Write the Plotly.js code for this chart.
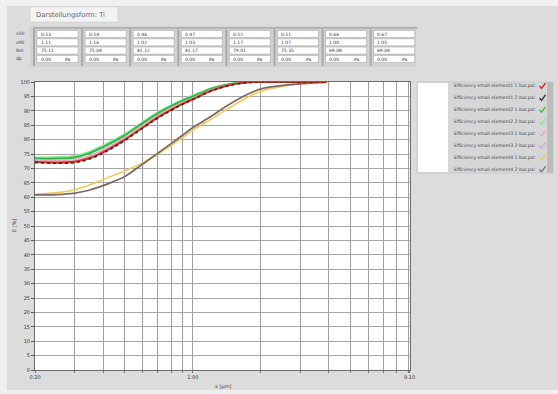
<!DOCTYPE html>
<html>
<head>
<meta charset="utf-8">
<script src="https://cdn.plot.ly/plotly-3.0.1.min.js"></script>
<style>html,body{margin:0;padding:0;background:#dcdcdc;}#chart{width:558px;height:394px;}</style>
</head>
<body>
<div id="chart"></div>
<script>
// ---- data ----
const xSize = [0.2, 0.25, 0.3, 0.35, 0.4, 0.45, 0.5, 0.6, 0.7, 0.8, 0.9, 1.0, 1.2, 1.4, 1.7, 2.0, 2.5, 3.0, 3.5, 3.9];
const e1_1 = [72.3, 72.0, 72.3, 73.6, 75.6, 77.8, 80.0, 84.2, 87.7, 90.3, 92.4, 94.0, 96.9, 98.6, 99.8, 100, 100, 100, 100, 100];
const e1_2 = [72.0, 71.8, 72.0, 73.3, 75.3, 77.5, 79.7, 84.0, 87.5, 90.1, 92.3, 93.9, 96.8, 98.5, 99.7, 100, 100, 100, 100, 100];
const e2_1 = [73.4, 73.4, 73.8, 75.3, 77.4, 79.5, 81.5, 85.7, 89.1, 91.6, 93.5, 95.0, 97.6, 99.0, 99.9, 100, 100, 100, 100, 100];
const e2_2 = [73.8, 73.9, 74.3, 75.8, 77.9, 80.0, 81.9, 86.1, 89.5, 91.9, 93.8, 95.3, 97.8, 99.1, 100, 100, 100, 100, 100, 100];
const e3_1 = [72.9, 72.7, 73.0, 74.4, 76.5, 78.6, 80.7, 84.9, 88.4, 90.9, 92.9, 94.4, 97.2, 98.8, 99.9, 100, 100, 100, 100, 100];
const e3_2 = [72.5, 72.3, 72.6, 73.9, 76.0, 78.2, 80.3, 84.5, 88.0, 90.6, 92.7, 94.2, 97.0, 98.7, 99.8, 100, 100, 100, 100, 100];
const e4_1 = [61.0, 61.6, 62.6, 64.3, 66.1, 67.7, 69.1, 72.0, 75.0, 77.9, 80.7, 83.3, 87.0, 90.3, 94.2, 96.8, 98.5, 99.3, 99.7, 99.9];
const e4_2 = [60.8, 60.9, 61.4, 62.5, 64.0, 65.6, 67.2, 71.5, 75.3, 78.6, 81.5, 84.2, 88.0, 91.5, 95.3, 97.6, 98.8, 99.4, 99.8, 99.9];

const seriesNames = [
  'Efficiency small element1 1 bar.pal', 'Efficiency small element1 2 bar.pal',
  'Efficiency small element2 1 bar.pal', 'Efficiency small element2 2 bar.pal',
  'Efficiency small element3 1 bar.pal', 'Efficiency small element3 2 bar.pal',
  'Efficiency small element4 1 bar.pal', 'Efficiency small element4 2 bar.pal'
];
const xTickVals = [0.2, 0.3, 0.4, 0.5, 0.6, 0.7, 0.8, 0.9, 1, 2, 3, 4, 5, 6, 7, 8, 9, 9.1];
const xTickText = ['0.20', '', '', '', '', '', '', '', '1.00', '', '', '', '', '', '', '', '', '9.10'];
const yTickVals = [0, 5, 10, 15, 20, 25, 30, 35, 40, 45, 50, 55, 60, 65, 70, 75, 80, 85, 90, 95, 100];

const rowLabels = ['x50', 'x90', 'Ret', 'dp'];
const rowX50 = ['0.53', '0.54', '0.46', '0.47', '0.52', '0.51', '0.66', '0.67'];
const rowX90 = ['1.11', '1.16', '1.02', '1.03', '1.17', '1.07', '1.00', '1.05'];
const rowRet = ['75.11', '75.04', '81.12', '81.17', '79.01', '75.35', '69.08', '69.04'];
const rowDp  = ['0.00', '0.00', '0.00', '0.00', '0.00', '0.00', '0.00', '0.00'];

// ---- styles ----
const colors = ['#d8281c', '#3a2a22', '#2eb84c', '#8ae890', '#f0a4bc', '#d4a4e0', '#f0c858', '#7a6a62'];
const dashes = ['solid', 'dot', 'solid', 'solid', 'solid', 'solid', 'solid', 'solid'];
const widths = [2, 1.6, 2, 2, 1.4, 1.4, 1.6, 1.8];
const ys = [e1_1, e1_2, e2_1, e2_2, e3_1, e3_2, e4_1, e4_2];
const drawOrder = [3, 2, 5, 4, 6, 7, 0, 1];

const traces = drawOrder.map(i => ({
  x: xSize, y: ys[i], type: 'scatter', mode: 'lines', name: seriesNames[i],
  line: {color: colors[i], width: widths[i], dash: dashes[i], shape: 'spline', smoothing: 1},
  showlegend: false, hoverinfo: 'skip'
}));

// ---- pixel helpers ----
const L = 35, R = 410, T = 82, B = 370;
const px = x => (x - L) / (R - L);
const py = y => (B - y) / (B - T);
const shapes = [];
const ann = [];
function rect(x0, y0, x1, y1, fill, lc, lw, layer) {
  shapes.push({type: 'rect', xref: 'paper', yref: 'paper', x0: px(x0), x1: px(x1), y0: py(y1), y1: py(y0),
    fillcolor: fill, line: {color: lc || fill, width: lw === undefined ? 0 : lw}, layer: layer || 'above'});
}
function text(x, y, s, size, color, xanchor, angle) {
  ann.push({xref: 'paper', yref: 'paper', x: px(x), y: py(y), text: s, showarrow: false,
    xanchor: xanchor || 'left', yanchor: 'middle', textangle: angle || 0,
    font: {family: 'DejaVu Sans, Arial', size: size, color: color || '#333'}});
}

// outer light frame
rect(0, 0, 558, 6, '#f0f0f0');
rect(0, 0, 7, 394, '#efefef');
rect(0, 390, 558, 394, '#efefef');
// tab
rect(30, 7, 118, 22, '#f3f3f3', '#c8c8c8', 0.5);
text(34, 15, 'Darstellungsform: Ti', 6.8, '#666');
// parameter boxes
const rows = [rowX50, rowX90, rowRet, rowDp];
rect(30, 26, 416, 67, '#d2d2d2');
for (let r = 0; r < 4; r++) {
  text(14, 34 + 8.3 * r, rowLabels[r], 4.5, '#444');
}
for (let c = 0; c < 8; c++) {
  const x0 = 37 + 48.1 * c;
  rect(x0 - 4, 27, x0 - 2, 66, '#a9a9a9');
  rect(x0 - 4, 27, x0 + 44, 29, '#b4b4b4');
  for (let r = 0; r < 4; r++) {
    const y0 = 30.5 + 8.3 * r;
    rect(x0, y0, x0 + 41, y0 + 7, '#ffffff', '#9c9c9c', 0.5);
    text(x0 + 1.5, y0 + 3.7, rows[r][c], 4.5, '#333');
    if (r === 3) text(x0 + 26, y0 + 3.7, 'Pa', 4.5, '#333');
  }
}
// legend
rect(417, 82, 553, 173, '#d6d6d6', '#b8b8b8', 0.5);
rect(418, 83, 448, 172, '#ffffff');
rect(547, 82, 553, 173, '#bcbcbc');
for (let i = 0; i < 8; i++) {
  const yc = 86 + 11.9 * i;
  text(537, yc, seriesNames[i], 4.6, '#444', 'right');
  shapes.push({type: 'path', xref: 'paper', yref: 'paper',
    path: `M ${px(539.5)} ${py(yc)} L ${px(541.5)} ${py(yc + 2.5)} L ${px(545.5)} ${py(yc - 3)}`,
    line: {color: colors[i], width: 1.3}});
}
// axis titles
text(14, 226, 'E [%]', 5, '#444', 'center', -90);
text(223, 386, 'x [µm]', 5, '#444', 'center');

const layout = {
  width: 558, height: 394,
  margin: {l: L, r: 558 - R, t: T, b: 394 - B, pad: 0},
  paper_bgcolor: '#dcdcdc', plot_bgcolor: '#ffffff',
  showlegend: false,
  xaxis: {
    type: 'log', range: [Math.log10(0.2), Math.log10(9.14)],
    tickmode: 'array', tickvals: xTickVals, ticktext: xTickText,
    showgrid: true, gridcolor: '#9e9e9e', gridwidth: 1,
    showline: true, linecolor: '#6a6a6a', linewidth: 1, mirror: true,
    ticks: 'outside', ticklen: 2, tickcolor: '#777',
    tickfont: {family: 'DejaVu Sans, Arial', size: 5, color: '#333'},
    zeroline: false, fixedrange: true
  },
  yaxis: {
    range: [0, 100], tickmode: 'array', tickvals: yTickVals,
    showgrid: true, gridcolor: '#a6a6a6', gridwidth: 1,
    showline: true, linecolor: '#6a6a6a', linewidth: 1, mirror: true,
    ticks: 'outside', ticklen: 3, tickcolor: '#555',
    tickfont: {family: 'DejaVu Sans, Arial', size: 5, color: '#333'},
    zeroline: false, fixedrange: true
  },
  shapes: shapes,
  annotations: ann
};
Plotly.newPlot('chart', traces, layout, {staticPlot: true, displayModeBar: false});
</script>
</body>
</html>
